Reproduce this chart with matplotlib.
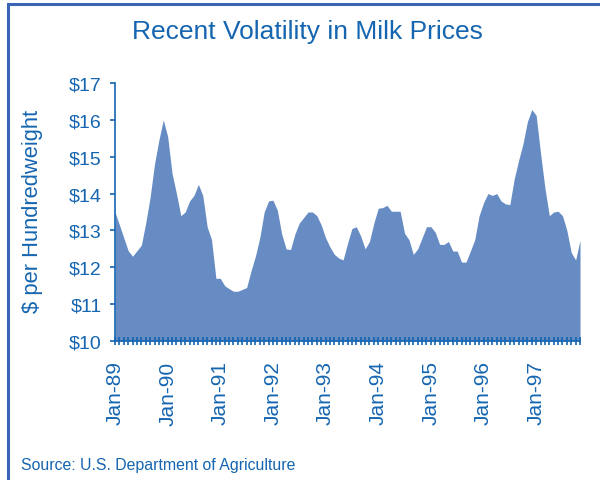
import matplotlib.pyplot as plt
import numpy as np
from matplotlib.patches import Rectangle

plt.rcParams['font.family'] = ['Liberation Sans', 'DejaVu Sans']

# monthly milk price, $ per hundredweight, Jan-89 .. Nov-97
prices = [13.5, 13.15, 12.8, 12.45, 12.3, 12.45, 12.6, 13.2, 13.9, 14.8, 15.45, 16.0,
          15.55, 14.55, 14.0, 13.4, 13.5, 13.8, 13.95, 14.25, 13.95, 13.1, 12.75, 11.7,
          11.7, 11.5, 11.42, 11.35, 11.35, 11.4, 11.45, 11.9, 12.3, 12.8, 13.5, 13.8,
          13.82, 13.55, 12.9, 12.5, 12.48, 12.9, 13.2, 13.35, 13.5, 13.5, 13.4, 13.15,
          12.8, 12.55, 12.35, 12.25, 12.2, 12.65, 13.05, 13.1, 12.85, 12.5, 12.7, 13.2,
          13.6, 13.62, 13.68, 13.52, 13.52, 13.52, 12.92, 12.75, 12.35, 12.5, 12.8, 13.1,
          13.1, 12.95, 12.62, 12.62, 12.7, 12.44, 12.44, 12.14, 12.14, 12.44, 12.75, 13.4,
          13.75, 14.0, 13.95, 14.0, 13.8, 13.72, 13.7, 14.4, 14.9, 15.35, 15.95, 16.28,
          16.12, 15.1, 14.15, 13.4, 13.5, 13.52, 13.4, 13.0, 12.4, 12.2, 12.73]
year_labels = ['Jan-89', 'Jan-90', 'Jan-91', 'Jan-92', 'Jan-93', 'Jan-94', 'Jan-95', 'Jan-96', 'Jan-97']
y_ticks = [10, 11, 12, 13, 14, 15, 16, 17]

txt = '#1565b0'
fill = '#678cc4'

fig = plt.figure(figsize=(6, 4.81), dpi=100)
ax = fig.add_axes([0.1917, 0.289, 0.775, 0.5364])

x = np.arange(len(prices))
ax.fill_between(x, 10, prices, color=fill, linewidth=0)
ax.set_xlim(0, len(prices) - 1)
ax.set_ylim(10, 17)

ax.set_yticks(y_ticks)
ax.set_yticklabels(['$' + str(v) for v in y_ticks])
labels = [''] * len(prices)
for i, lab in enumerate(year_labels):
    labels[i * 12] = lab
ax.set_xticks(x)
ax.set_xticklabels(labels, rotation=90)

for s in ['top', 'right']:
    ax.spines[s].set_visible(False)
for s in ['left', 'bottom']:
    ax.spines[s].set_color(txt)
    ax.spines[s].set_linewidth(1.2)
ax.tick_params(axis='y', colors=txt, labelsize=14, length=3.6, width=1.2, pad=6)
ax.tick_params(axis='x', colors=txt, labelsize=15, length=6, width=1.2, direction='inout', pad=11)

ax.set_ylabel('$ per Hundredweight', color=txt, fontsize=15.8)
ax.yaxis.set_label_coords(-0.155, 0.506)

fig.text(0.513, 0.933, 'Recent Volatility in Milk Prices', color=txt, fontsize=19, ha='center', va='center')
fig.text(0.035, 0.033, 'Source: U.S. Department of Agriculture', color=txt, fontsize=11.4, ha='left', va='center')

fig.add_artist(Rectangle((8 / 600, -0.1), 1.2, 1 - 5 / 481 + 0.1, transform=fig.transFigure,
                         fill=False, edgecolor='#3c64b4', linewidth=2.2))

fig.savefig('out.png', dpi=100)
